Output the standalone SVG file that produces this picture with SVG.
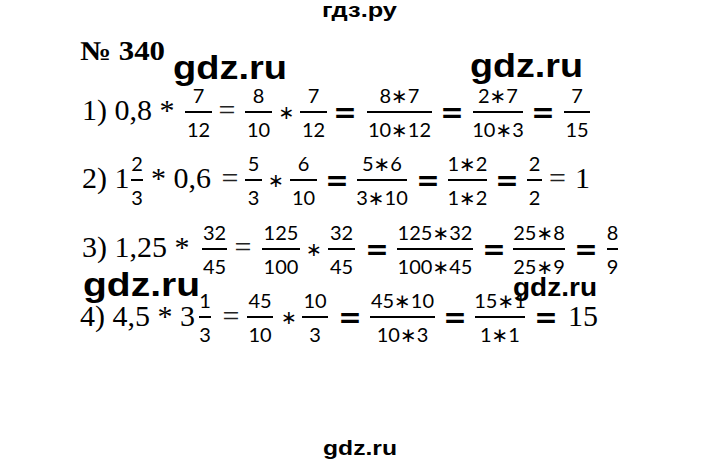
<svg xmlns="http://www.w3.org/2000/svg" width="720" height="466" viewBox="0 0 720 466">
<style>
.m{font-family:"Liberation Serif","Times New Roman",serif;font-size:30px;fill:#000}
.t{font-family:"Liberation Serif","Times New Roman",serif;font-size:30px;fill:#222;text-anchor:middle}
.hd{font-family:"Liberation Serif","Times New Roman",serif;font-size:27px;font-weight:bold;fill:#000}
.f{font-family:Lato,"DejaVu Sans",sans-serif;font-size:20px;fill:#000;text-anchor:middle}
.eq{font-family:"DejaVu Sans",sans-serif;font-weight:bold;font-size:28px;fill:#000;text-anchor:middle}
.op{font-family:"DejaVu Sans",sans-serif;font-size:19px;fill:#000;text-anchor:middle}
.w{font-family:"Liberation Sans",Arial,sans-serif;font-weight:bold;fill:#000}
.b{stroke:#000;stroke-width:2}
</style>
<rect width="720" height="466" fill="#fff"/>
<g id="header">
<text class="w" x="322" y="17" font-size="20" textLength="75" lengthAdjust="spacingAndGlyphs">гдз.ру</text>
<text class="hd" x="80" y="60" textLength="85" lengthAdjust="spacingAndGlyphs">№ 340</text>
</g>
<g id="watermarks">
<text class="w" x="173" y="79" font-size="34" textLength="114" lengthAdjust="spacingAndGlyphs">gdz.ru</text>
<text class="w" x="470" y="77" font-size="34" textLength="113" lengthAdjust="spacingAndGlyphs">gdz.ru</text>
<text class="w" x="83" y="296" font-size="34" textLength="117" lengthAdjust="spacingAndGlyphs">gdz.ru</text>
<text class="w" x="513" y="296" font-size="26" textLength="84" lengthAdjust="spacingAndGlyphs">gdz.ru</text>
<text class="w" x="323" y="455" font-size="21" textLength="74" lengthAdjust="spacingAndGlyphs">gdz.ru</text>
</g>
<g id="row1">
<text class="m" x="82" y="120">1) 0,8 *</text>
<line class="b" x1="185" y1="112" x2="212" y2="112"/><text class="f" x="198.5" y="103">7</text><text class="f" x="198.5" y="137">12</text>
<text class="t" x="227" y="120">=</text>
<line class="b" x1="245" y1="112" x2="272" y2="112"/><text class="f" x="258.5" y="103">8</text><text class="f" x="258.5" y="137">10</text>
<text class="op" x="286.5" y="119">∗</text>
<line class="b" x1="300" y1="112" x2="327" y2="112"/><text class="f" x="313.5" y="103">7</text><text class="f" x="313.5" y="137">12</text>
<text class="eq" x="345" y="122">=</text>
<line class="b" x1="367" y1="112" x2="432" y2="112"/><text class="f" x="399.5" y="103">8∗7</text><text class="f" x="399.5" y="137">10∗12</text>
<text class="eq" x="452" y="122">=</text>
<line class="b" x1="473" y1="112" x2="523" y2="112"/><text class="f" x="498" y="103">2∗7</text><text class="f" x="498" y="137">10∗3</text>
<text class="eq" x="543" y="122">=</text>
<line class="b" x1="564" y1="112" x2="590" y2="112"/><text class="f" x="577" y="103">7</text><text class="f" x="577" y="137">15</text>
</g>
<g id="row2">
<text class="m" x="82" y="188">2) 1</text>
<line class="b" x1="131" y1="180" x2="143" y2="180"/><text class="f" x="137" y="171">2</text><text class="f" x="137" y="205">3</text>
<text class="m" x="151" y="188">* 0,6</text>
<text class="t" x="230" y="188">=</text>
<line class="b" x1="245" y1="180" x2="262" y2="180"/><text class="f" x="253.5" y="171">5</text><text class="f" x="253.5" y="205">3</text>
<text class="op" x="276" y="187">∗</text>
<line class="b" x1="290" y1="180" x2="317" y2="180"/><text class="f" x="303.5" y="171">6</text><text class="f" x="303.5" y="205">10</text>
<text class="eq" x="337" y="190">=</text>
<line class="b" x1="357" y1="180" x2="407" y2="180"/><text class="f" x="382" y="171">5∗6</text><text class="f" x="382" y="205">3∗10</text>
<text class="eq" x="428" y="190">=</text>
<line class="b" x1="448" y1="180" x2="487" y2="180"/><text class="f" x="467.5" y="171">1∗2</text><text class="f" x="467.5" y="205">1∗2</text>
<text class="eq" x="507" y="190">=</text>
<line class="b" x1="527" y1="180" x2="542" y2="180"/><text class="f" x="534.5" y="171">2</text><text class="f" x="534.5" y="205">2</text>
<text class="t" x="557.5" y="188">=</text>
<text class="m" x="575" y="188">1</text>
</g>
<g id="row3">
<text class="m" x="82" y="257">3) 1,25 *</text>
<line class="b" x1="202" y1="249" x2="227" y2="249"/><text class="f" x="214.5" y="240">32</text><text class="f" x="214.5" y="274">45</text>
<text class="t" x="243" y="257">=</text>
<line class="b" x1="262" y1="249" x2="300" y2="249"/><text class="f" x="281" y="240">125</text><text class="f" x="281" y="274">100</text>
<text class="op" x="314" y="256">∗</text>
<line class="b" x1="328" y1="249" x2="355" y2="249"/><text class="f" x="341.5" y="240">32</text><text class="f" x="341.5" y="274">45</text>
<text class="eq" x="377" y="259">=</text>
<line class="b" x1="397" y1="249" x2="473" y2="249"/><text class="f" x="435" y="240">125∗32</text><text class="f" x="435" y="274">100∗45</text>
<text class="eq" x="494" y="259">=</text>
<line class="b" x1="513" y1="249" x2="565" y2="249"/><text class="f" x="539" y="240">25∗8</text><text class="f" x="539" y="274">25∗9</text>
<text class="eq" x="586" y="259">=</text>
<line class="b" x1="607" y1="249" x2="618" y2="249"/><text class="f" x="612.5" y="240">8</text><text class="f" x="612.5" y="274">9</text>
</g>
<g id="row4">
<text class="m" x="80" y="326">4) 4,5 * 3</text>
<line class="b" x1="199" y1="317" x2="211" y2="317"/><text class="f" x="205" y="308">1</text><text class="f" x="205" y="342">3</text>
<text class="t" x="231" y="326">=</text>
<line class="b" x1="247" y1="317" x2="273" y2="317"/><text class="f" x="260" y="308">45</text><text class="f" x="260" y="342">10</text>
<text class="op" x="289" y="324">∗</text>
<line class="b" x1="302" y1="317" x2="328" y2="317"/><text class="f" x="315" y="308">10</text><text class="f" x="315" y="342">3</text>
<text class="eq" x="350" y="327">=</text>
<line class="b" x1="370" y1="317" x2="435" y2="317"/><text class="f" x="402.5" y="308">45∗10</text><text class="f" x="402.5" y="342">10∗3</text>
<text class="eq" x="455" y="327">=</text>
<line class="b" x1="475" y1="317" x2="525" y2="317"/><text class="f" x="500" y="308">15∗1</text><text class="f" x="500" y="342">1∗1</text>
<text class="eq" x="546" y="327">=</text>
<text class="m" x="568" y="326">15</text>
</g>
</svg>
